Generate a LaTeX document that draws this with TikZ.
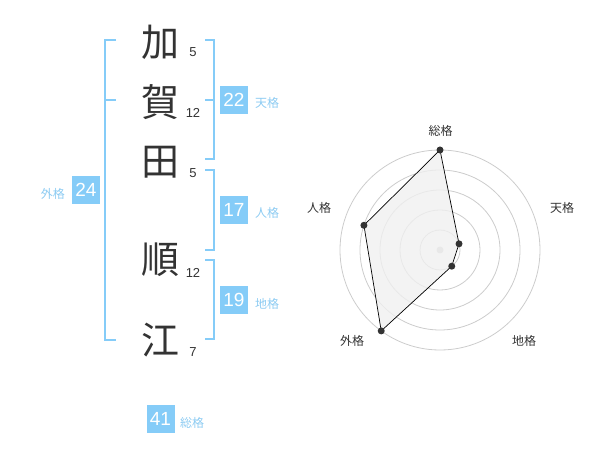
\documentclass[tikz,border=0pt]{standalone}
\usepackage{fontspec}
\usetikzlibrary{calc}
\setmainfont{Liberation Sans}
\newfontfamily\jp{Noto Sans CJK JP}
\definecolor{lb}{HTML}{85CCF8}
\definecolor{lbt}{HTML}{8CCBF2}
\definecolor{ink}{HTML}{333333}
\definecolor{ring}{HTML}{CCCCCC}
\begin{document}
\begin{tikzpicture}[x=1pt,y=-1pt,
  kanji/.style={font=\jp\fontsize{38}{38}\selectfont,text=ink,inner sep=0pt},
  strokes/.style={font=\fontsize{13}{13}\selectfont,text=ink,inner sep=0pt},
  numbox/.style={fill=lb,text=white,minimum width=28pt,minimum height=28pt,inner sep=0pt,font=\fontsize{19}{19}\selectfont},
  kaku/.style={font=\jp\fontsize{12}{12}\selectfont,text=lbt,inner sep=0pt},
  brk/.style={draw=lb,line width=2pt},
  ringst/.style={draw=ring,line width=0.8pt},
  axlab/.style={font=\jp\fontsize{12}{12}\selectfont,text=ink,inner sep=0pt},
  dot/.style={circle,fill=ink,inner sep=0pt,minimum size=7pt}]
\useasboundingbox (0,0) rectangle (600,470);
% kanji
\node[kanji] (k1) at (160,42) {加};
\node[kanji] (k2) at (160,102) {賀};
\node[kanji] (k3) at (160,162) {田};
\node[kanji] (k4) at (160,260) {順};
\node[kanji] (k5) at (160,340) {江};
% strokes
\node[strokes] (s1) at (193,52) {5};
\node[strokes] (s2) at (193,113) {12};
\node[strokes] (s3) at (193,173) {5};
\node[strokes] (s4) at (193,273) {12};
\node[strokes] (s5) at (193,352) {7};
% brackets
\draw[brk] (116,40) -- (105,40) -- (105,340) -- (116,340);
\draw[brk] (105,100) -- (116,100);
\draw[brk] (205,40) -- (214,40) -- (214,159) -- (205,159);
\draw[brk] (205,100) -- (214,100);
\draw[brk] (205,170) -- (214,170) -- (214,250) -- (205,250);
\draw[brk] (205,260) -- (214,260) -- (214,339) -- (205,339);
% boxes
\node[numbox] (ten) at (234,100) {22};
\node[kaku,anchor=west] (tenl) at (255,103) {天格};
\node[numbox] (jin) at (234,210) {17};
\node[kaku,anchor=west] (jinl) at (255,213) {人格};
\node[numbox] (chi) at (234,300) {19};
\node[kaku,anchor=west] (chil) at (255,304) {地格};
\node[numbox] (gai) at (86,190) {24};
\node[kaku,anchor=east] (gail) at (65,194) {外格};
\node[numbox] (sou) at (160.5,419) {41};
\node[kaku,anchor=west] (soul) at (180,423) {総格};
% radar
\coordinate (c) at (440,250);
\foreach \r in {20,40,60,80,100} \draw[ringst] (c) circle[radius=\r];
\fill[ring] (c) circle[radius=3.5];
\coordinate (p1) at ($(c)+(0,-100)$);
\coordinate (p2) at ($(c)+({20*cos(18)},{-20*sin(18)})$);
\coordinate (p3) at ($(c)+({20*cos(54)},{20*sin(54)})$);
\coordinate (p4) at ($(c)+({-100*cos(54)},{100*sin(54)})$);
\coordinate (p5) at ($(c)+({-80*cos(18)},{-80*sin(18)})$);
\filldraw[fill=black!6,fill opacity=0.8,draw=black,line width=0.7pt] (p1) -- (p2) -- (p3) -- (p4) -- (p5) -- cycle;
\foreach \p in {p1,p2,p3,p4,p5} \node[dot] at (\p) {};
\node[axlab] (a1) at (440.5,131) {総格};
\node[axlab] (a2) at (562,208) {天格};
\node[axlab] (a3) at (524,341) {地格};
\node[axlab] (a4) at (352,341) {外格};
\node[axlab] (a5) at (319,208) {人格};
\end{tikzpicture}
\end{document}
